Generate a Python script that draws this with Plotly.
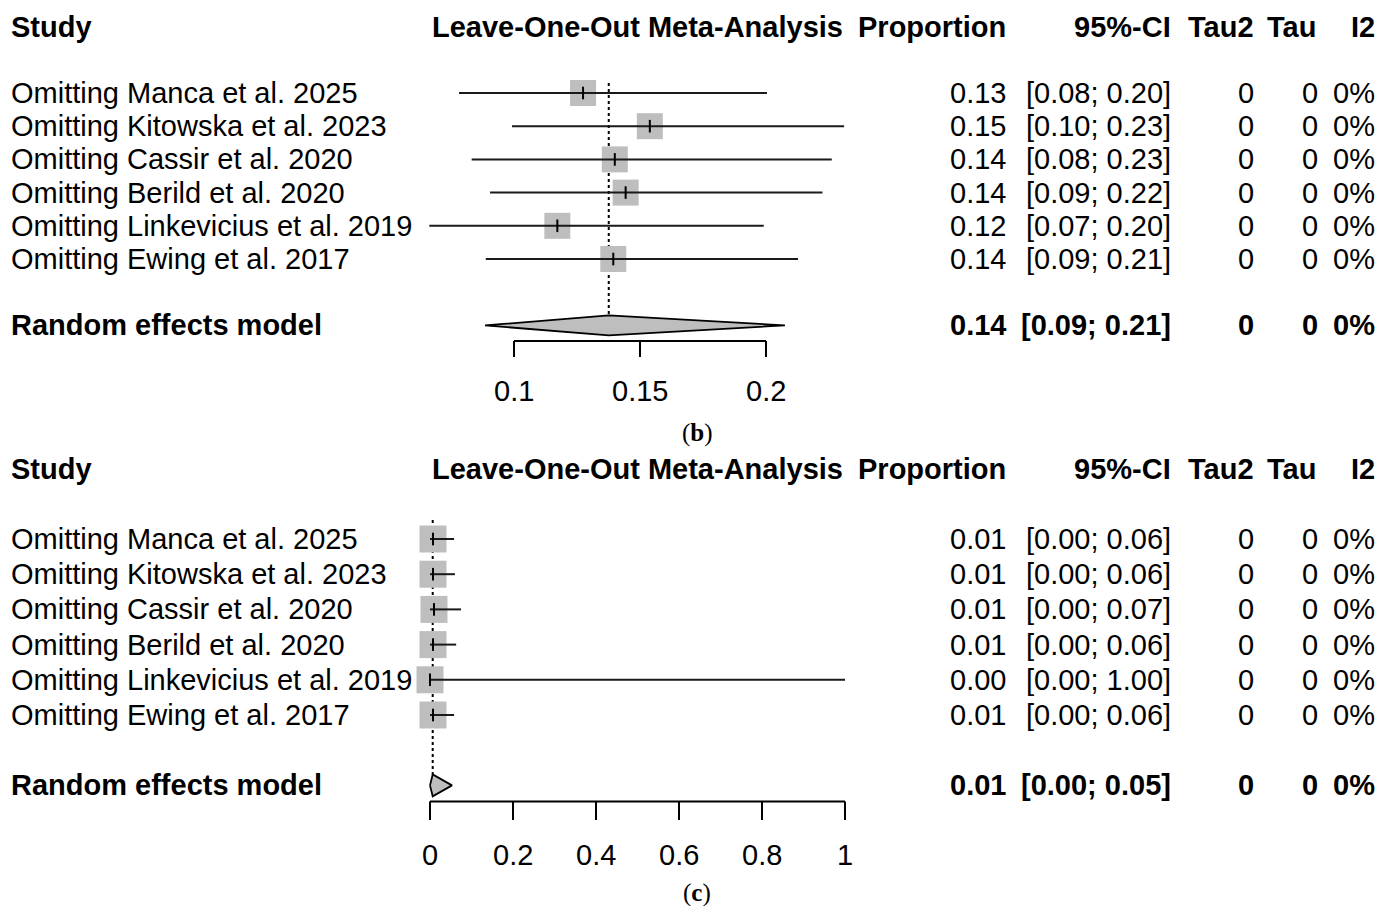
import plotly.graph_objects as go

W, H = 1378, 906

# ---------------------------------------------------------------- data
studies = [
    "Omitting Manca et al. 2025",
    "Omitting Kitowska et al. 2023",
    "Omitting Cassir et al. 2020",
    "Omitting Berild et al. 2020",
    "Omitting Linkevicius et al. 2019",
    "Omitting Ewing et al. 2017",
]

# panel (b): leave-one-out proportions
b_est = [0.1274, 0.1539, 0.1400, 0.1443, 0.1172, 0.1394]
b_lo = [0.0782, 0.0992, 0.0832, 0.0905, 0.0664, 0.0888]
b_hi = [0.2004, 0.2310, 0.2261, 0.2224, 0.1991, 0.2127]
b_tau2 = [0, 0, 0, 0, 0, 0]
b_tau = [0, 0, 0, 0, 0, 0]
b_i2 = [0, 0, 0, 0, 0, 0]
b_pool_est, b_pool_lo, b_pool_hi = 0.1376, 0.0885, 0.2075
b_pool_tau2, b_pool_tau, b_pool_i2 = 0, 0, 0
b_ticks = [0.1, 0.15, 0.2]
b_tick_labels = ["0.1", "0.15", "0.2"]

# panel (c): leave-one-out proportions
c_est = [0.0072, 0.0072, 0.0096, 0.0072, 0.0, 0.0072]
c_lo = [0.0, 0.0, 0.0, 0.0, 0.0, 0.0]
c_hi = [0.058, 0.060, 0.0747, 0.063, 1.0, 0.058]
c_tau2 = [0, 0, 0, 0, 0, 0]
c_tau = [0, 0, 0, 0, 0, 0]
c_i2 = [0, 0, 0, 0, 0, 0]
c_pool_est, c_pool_lo, c_pool_hi = 0.0065, 0.0, 0.053
c_pool_tau2, c_pool_tau, c_pool_i2 = 0, 0, 0
c_ticks = [0, 0.2, 0.4, 0.6, 0.8, 1]
c_tick_labels = ["0", "0.2", "0.4", "0.6", "0.8", "1"]

headers = ["Study", "Leave-One-Out Meta-Analysis", "Proportion", "95%-CI", "Tau2", "Tau", "I2"]
pooled_label = "Random effects model"

# ---------------------------------------------------------------- style
FONT = "Liberation Sans, Arial, Helvetica, sans-serif"
FS = 29
GREY = "#BEBEBE"
INK = "#000000"

# column anchors (pixels from the left edge)
X_STUDY = 9
X_PLOT_HEAD = 637
X_PROP = 1008
X_CI = 1173
X_TAU2 = 1256
X_TAU = 1320
X_I2 = 1377

fig = go.Figure()
annotations = []


def px(x):
    return x / W


def text(x, y, s, yref, anchor="left", bold=False, size=FS, xref="paper"):
    annotations.append(dict(
        x=x, y=y, xref=xref, yref=yref, text=f"<b>{s}</b>" if bold else s,
        showarrow=False, xanchor=anchor, yanchor="middle",
        font=dict(family=FONT, size=size, color=INK),
    ))


def panel(ax, est, lo, hi, tau2, tau, i2, p_est, p_lo, p_hi, p_tau2, p_tau, p_i2,
          ticks, tick_labels, sq_size, dot_top, axis_y, tick_len, dia_h):
    xa, ya = "x" + ax, "y" + ax
    rows = list(range(1, len(est) + 1))
    pool_row = len(est) + 2

    # dotted reference line at the pooled estimate
    fig.add_trace(go.Scatter(
        x=[p_est, p_est], y=[dot_top, pool_row - dia_h], mode="lines",
        line=dict(color=INK, width=2, dash="dot"), xaxis=xa, yaxis=ya,
        hoverinfo="skip", showlegend=False))

    # study squares
    fig.add_trace(go.Scatter(
        x=est, y=rows, mode="markers",
        marker=dict(symbol="square", size=sq_size, color=GREY, line=dict(width=0)),
        xaxis=xa, yaxis=ya, hoverinfo="skip", showlegend=False))

    # confidence intervals
    cx, cy = [], []
    for r, a, b in zip(rows, lo, hi):
        cx += [a, b, None]
        cy += [r, r, None]
    fig.add_trace(go.Scatter(
        x=cx, y=cy, mode="lines", line=dict(color="#1a1a1a", width=2),
        xaxis=xa, yaxis=ya, hoverinfo="skip", showlegend=False))

    # point-estimate ticks
    fig.add_trace(go.Scatter(
        x=est, y=rows, mode="markers",
        marker=dict(symbol="line-ns", size=9, line=dict(color=INK, width=2)),
        xaxis=xa, yaxis=ya, hoverinfo="skip", showlegend=False))

    # pooled diamond
    fig.add_trace(go.Scatter(
        x=[p_lo, p_est, p_hi, p_est, p_lo],
        y=[pool_row, pool_row - dia_h, pool_row, pool_row + dia_h, pool_row],
        mode="lines", fill="toself", fillcolor=GREY,
        line=dict(color=INK, width=1.8), xaxis=xa, yaxis=ya,
        hoverinfo="skip", showlegend=False))

    # x axis: baseline spanning the tick range, plus tick marks
    ax_x = [ticks[0], ticks[-1], None]
    ax_y = [axis_y, axis_y, None]
    for t in ticks:
        ax_x += [t, t, None]
        ax_y += [axis_y, axis_y + tick_len, None]
    fig.add_trace(go.Scatter(
        x=ax_x, y=ax_y, mode="lines", line=dict(color=INK, width=2),
        xaxis=xa, yaxis=ya, hoverinfo="skip", showlegend=False))
    for t, lab in zip(ticks, tick_labels):
        text(t, pool_row + 1.97, lab, ya, anchor="center", xref=xa)

    # header row
    hy = -1
    text(px(X_STUDY), hy, headers[0], ya, "left", True)
    text(px(X_PLOT_HEAD), hy, headers[1], ya, "center", True)
    text(px(X_PROP), hy, headers[2], ya, "right", True)
    text(px(X_CI), hy, headers[3], ya, "right", True)
    text(px(X_TAU2), hy, headers[4], ya, "right", True)
    text(px(X_TAU - 2), hy, headers[5], ya, "right", True)
    text(px(X_I2), hy, headers[6], ya, "right", True)

    # study rows
    for r, name, e, a, b, t2, t, i in zip(rows, studies, est, lo, hi, tau2, tau, i2):
        text(px(X_STUDY), r, name, ya, "left")
        text(px(X_PROP), r, f"{e:.2f}", ya, "right")
        text(px(X_CI), r, f"[{a:.2f}; {b:.2f}]", ya, "right")
        text(px(X_TAU2), r, f"{t2:g}", ya, "right")
        text(px(X_TAU), r, f"{t:g}", ya, "right")
        text(px(X_I2), r, f"{i:.0f}%", ya, "right")

    # pooled row
    text(px(X_STUDY), pool_row, pooled_label, ya, "left", True)
    text(px(X_PROP), pool_row, f"{p_est:.2f}", ya, "right", True)
    text(px(X_CI), pool_row, f"[{p_lo:.2f}; {p_hi:.2f}]", ya, "right", True)
    text(px(X_TAU2), pool_row, f"{p_tau2:g}", ya, "right", True)
    text(px(X_TAU), pool_row, f"{p_tau:g}", ya, "right", True)
    text(px(X_I2), pool_row, f"{p_i2:.0f}%", ya, "right", True)


panel("", b_est, b_lo, b_hi, b_tau2, b_tau, b_i2,
      b_pool_est, b_pool_lo, b_pool_hi, b_pool_tau2, b_pool_tau, b_pool_i2,
      b_ticks, b_tick_labels, sq_size=26, dot_top=0.7, axis_y=8.47,
      tick_len=0.48, dia_h=0.3)
panel("2", c_est, c_lo, c_hi, c_tau2, c_tau, c_i2,
      c_pool_est, c_pool_lo, c_pool_hi, c_pool_tau2, c_pool_tau, c_pool_i2,
      c_ticks, c_tick_labels, sq_size=27, dot_top=0.46, axis_y=8.46,
      tick_len=0.52, dia_h=0.31)

# panel captions
for lab, ypix in (("b", 433), ("c", 893)):
    annotations.append(dict(
        x=px(697), y=1 - ypix / H, xref="paper", yref="paper",
        text=f"(<b>{lab}</b>)", showarrow=False, xanchor="center", yanchor="middle",
        font=dict(family="Liberation Serif, Times New Roman, serif", size=25, color=INK)))


def lin_range(p0, v0, p1, v1, lo_px, hi_px):
    s = (v1 - v0) / (p1 - p0)
    return [v0 + (lo_px - p0) * s, v0 + (hi_px - p0) * s]


PLOT_L, PLOT_R = 400, 860
dom_x = [PLOT_L / W, PLOT_R / W]
# horizontal scales: tick positions in pixels
xr_b = lin_range(514, 0.1, 766, 0.2, PLOT_L, PLOT_R)
xr_c = lin_range(430, 0.0, 845, 1.0, PLOT_L, PLOT_R)
# vertical scales: row 1 and row pitch in pixels
yr_b = lin_range(93, 1, 93 + 33.2, 2, 453, 0)
yr_c = lin_range(539, 1, 539 + 35.2, 2, 906, 453)

hidden = dict(visible=False, showgrid=False, zeroline=False, fixedrange=True)
fig.update_layout(
    width=W, height=H, autosize=False,
    margin=dict(l=0, r=0, t=0, b=0),
    paper_bgcolor="white", plot_bgcolor="white",
    showlegend=False,
    xaxis=dict(domain=dom_x, range=xr_b, anchor="y", **hidden),
    yaxis=dict(domain=[0.5, 1.0], range=yr_b, anchor="x", **hidden),
    xaxis2=dict(domain=dom_x, range=xr_c, anchor="y2", **hidden),
    yaxis2=dict(domain=[0.0, 0.5], range=yr_c, anchor="x2", **hidden),
    annotations=annotations,
)

fig.write_html("out.html")
